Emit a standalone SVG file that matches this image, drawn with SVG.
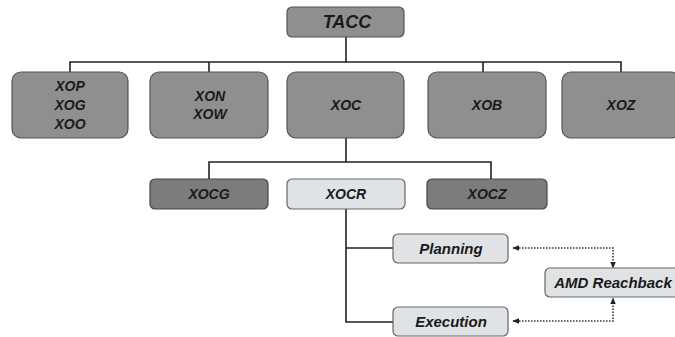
<svg xmlns="http://www.w3.org/2000/svg" width="675" height="337" viewBox="0 0 675 337">
<defs>
<style>
.box{fill:#8f8f8f;stroke:#555;stroke-width:1.2}
.dark{fill:#7c7c7c;stroke:#444;stroke-width:1.2}
.light{fill:#dfe3e6;stroke:#666;stroke-width:1.2}
.t{font-family:"Liberation Sans",Arial,sans-serif;font-weight:bold;font-style:italic;font-size:14px;fill:#1a1a1a;text-anchor:middle}
.s{font-size:15px}
.ln{stroke:#222;stroke-width:1.6;fill:none}
.dot{stroke:#333;stroke-width:1.6;fill:none;stroke-dasharray:1.5 1.5}
</style>
<marker id="ah" viewBox="0 0 10 10" refX="9" refY="5" markerWidth="7" markerHeight="7" orient="auto-start-reverse" markerUnits="userSpaceOnUse">
<path d="M0,1 L10,5 L0,9 z" fill="#222"/>
</marker>
</defs>
<rect width="675" height="337" fill="#fff"/>
<g id="connectors">
<path class="ln" d="M346,37 V62 M70,72 V62 H621 V72 M209,62 V72 M483,62 V72"/>
<path class="ln" d="M346,138 V162 M209,179 V162 H491 V179"/>
<path class="ln" d="M346,209 V322 H393 M346,248 H393"/>
<path class="dot" d="M513,248 H613 V268" marker-start="url(#ah)" marker-end="url(#ah)"/>
<path class="dot" d="M513,321 H613 V298" marker-start="url(#ah)" marker-end="url(#ah)"/>
</g>
<g id="TACC"><rect class="box" x="287" y="7" width="117" height="30" rx="5"/><text class="t" x="347" y="28" style="font-size:18px">TACC</text></g>
<g id="XOP"><rect class="box" x="12" y="72" width="116" height="66" rx="9"/><text class="t" x="70" y="91">XOP</text><text class="t" x="70" y="110">XOG</text><text class="t" x="70" y="129">XOO</text></g>
<g id="XON"><rect class="box" x="150" y="72" width="118" height="66" rx="9"/><text class="t" x="210" y="101">XON</text><text class="t" x="210" y="119">XOW</text></g>
<g id="XOC"><rect class="box" x="287" y="72" width="117" height="66" rx="9"/><text class="t" x="346" y="110">XOC</text></g>
<g id="XOB"><rect class="box" x="428" y="72" width="118" height="66" rx="9"/><text class="t" x="487" y="110">XOB</text></g>
<g id="XOZ"><rect class="box" x="562" y="72" width="118" height="66" rx="9"/><text class="t" x="621" y="110">XOZ</text></g>
<g id="XOCG"><rect class="dark" x="150" y="179" width="118" height="30" rx="5"/><text class="t" x="209" y="199">XOCG</text></g>
<g id="XOCR"><rect class="light" x="287" y="179" width="118" height="30" rx="5"/><text class="t" x="346" y="199">XOCR</text></g>
<g id="XOCZ"><rect class="dark" x="427" y="179" width="120" height="30" rx="5"/><text class="t" x="487" y="199">XOCZ</text></g>
<g id="Planning"><rect class="light" x="393" y="234" width="115" height="29" rx="5"/><text class="t s" x="451" y="254">Planning</text></g>
<g id="Execution"><rect class="light" x="393" y="307" width="115" height="29" rx="5"/><text class="t s" x="451" y="327">Execution</text></g>
<g id="AMD"><rect class="light" x="545" y="268" width="135" height="29" rx="5"/><text class="t s" x="613" y="288">AMD Reachback</text></g>
</svg>
